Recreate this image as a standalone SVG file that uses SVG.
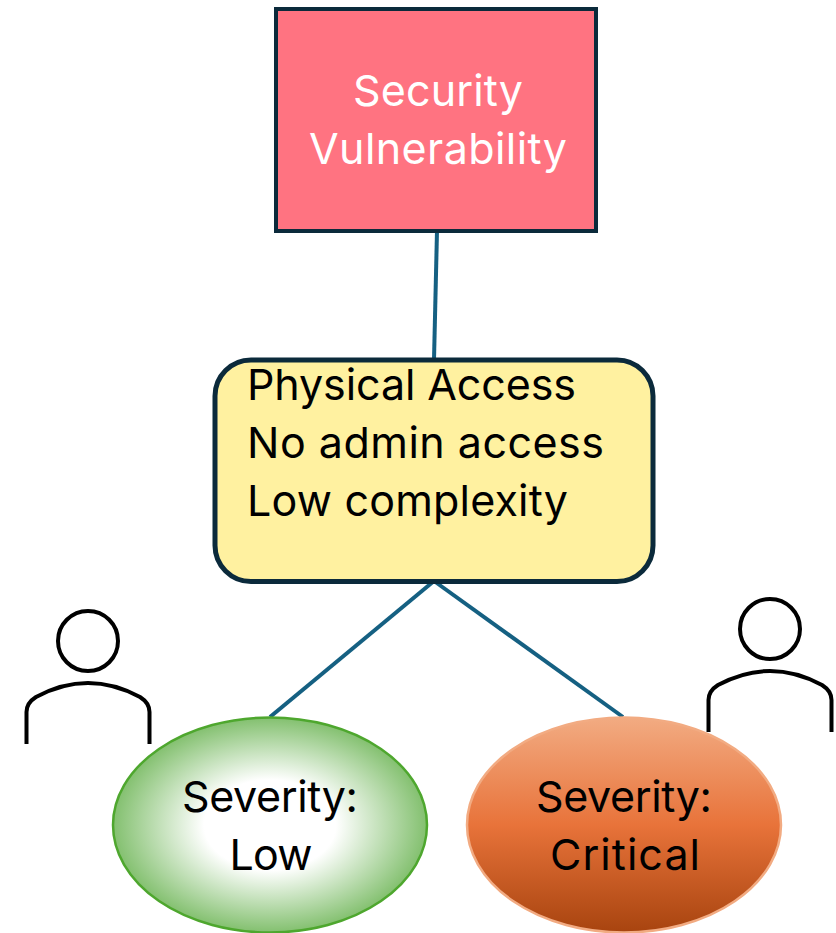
<svg xmlns="http://www.w3.org/2000/svg" width="836" height="933" viewBox="0 0 836 933">
<style>
text{font-family:"Inter","Noto Sans","Liberation Sans",sans-serif;font-size:43px;fill:#000}
.c{text-anchor:middle}
.w{fill:#fff}
.conn{stroke:#156082;stroke-width:4;fill:none}
.box{stroke:#0b2a3b}
.p{fill:none;stroke:#000;stroke-width:4}
</style>
<defs>
<radialGradient id="g" cx="0.5" cy="0.5" r="0.5">
<stop offset="0" stop-color="#fff"/><stop offset="0.42" stop-color="#fff"/><stop offset="1" stop-color="#83c06f"/>
</radialGradient>
<linearGradient id="o" x1="0" y1="0" x2="0" y2="1">
<stop offset="0" stop-color="#f2ab82"/><stop offset="0.5" stop-color="#e8733a"/><stop offset="1" stop-color="#a8440f"/>
</linearGradient>
</defs>
<g id="connectors">
<line class="conn" x1="437" y1="231" x2="434" y2="360"/>
<line class="conn" x1="434" y1="581" x2="270" y2="717"/>
<line class="conn" x1="434" y1="581" x2="623" y2="717"/>
</g>
<g id="vulnerability">
<rect class="box" stroke-width="4" x="276" y="9" width="320" height="222" fill="#ff7381"/>
<text class="c w" x="438" y="106" textLength="170">Security</text>
<text class="c w" x="438" y="164" textLength="258">Vulnerability</text>
</g>
<g id="conditions">
<rect class="box" stroke-width="5" x="215" y="360" width="438" height="221.500" rx="36" fill="#fff1a0"/>
<text x="247" y="400" textLength="329">Physical Access</text>
<text x="247" y="458" textLength="357">No admin access</text>
<text x="247" y="516" textLength="321">Low complexity</text>
</g>
<g id="person-left">
<circle class="p" cx="88" cy="641" r="30"/>
<path class="p" d="M26.500 744V712Q26.500 703 36 697Q88 669 140 697Q149.500 703 149.500 712V744"/>
</g>
<g id="person-right">
<circle class="p" cx="770" cy="629" r="30"/>
<path class="p" d="M708.500 732V700Q708.500 691 718 685Q770 657 822 685Q831.500 691 831.500 700V732"/>
</g>
<g id="severity-low">
<ellipse cx="270" cy="825" rx="157" ry="107.500" fill="url(#g)" stroke="#4ea72e" stroke-width="2.500"/>
<text class="c" x="270" y="812" textLength="176">Severity:</text>
<text class="c" x="271" y="870" textLength="83">Low</text>
</g>
<g id="severity-critical">
<ellipse cx="624" cy="825" rx="157" ry="107.500" fill="url(#o)" stroke="#f2ab82" stroke-width="2.500"/>
<text class="c" x="624" y="812" textLength="176">Severity:</text>
<text class="c" x="625" y="870" textLength="150">Critical</text>
</g>
</svg>
